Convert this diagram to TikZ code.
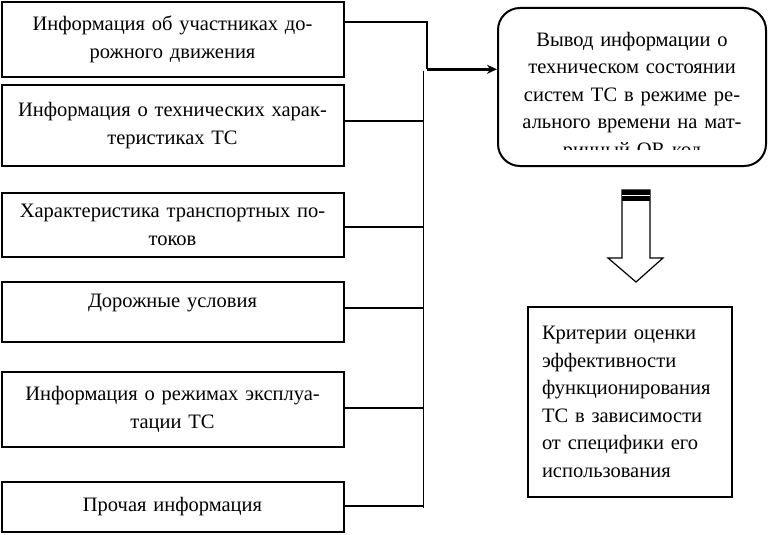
\documentclass[tikz,border=0pt]{standalone}
\usepackage{fontspec}
\setmainfont{Liberation Serif}
\usetikzlibrary{arrows.meta, positioning}

\begin{document}
\begin{tikzpicture}[
      x=1pt, y=-1pt, >={Stealth[length=10pt, width=9pt]},
      every node/.style={font=\fontsize{20.5}{27.5}\selectfont},
      info/.style={draw, line width=2pt, minimum width=342pt, text width=330pt, align=center, inner sep=0pt},
      link/.style={line width=1.5pt}
      ]
      \useasboundingbox (0,0) rectangle (768,535);

      \node[info, minimum height=75pt]  (i_1) at (172.5,39.5)  {Информация об участниках до-\\рожного движения};
      \node[info, minimum height=81pt]  (i_2) at (172.5,125.5) {Информация о технических харак-\\теристиках ТС};
      \node[info, minimum height=64pt]  (i_3) at (172.5,225)   {Характеристика транспортных по-\\токов};
      \node[info, minimum height=60pt, text depth=22pt] (i_4) at (172.5,312) {Дорожные условия};
      \node[info, minimum height=75pt]  (i_5) at (172.5,409.5) {Информация о режимах эксплуа-\\тации ТС};
      \node[info, minimum height=50pt]  (i_6) at (172.5,507)   {Прочая информация};

      \node[draw, line width=2pt, rounded corners=22pt, minimum width=268pt, minimum height=158pt,
            text width=256pt, align=center, inner sep=0pt, text height=33pt] (out) at (632,87)
            {Вывод информации о\\техническом состоянии\\систем ТС в режиме ре-\\ального времени на мат-\\ричный QR код};
      \fill[white] (556,150) rectangle (712,164);

      \node[draw, line width=2pt, minimum width=204pt, minimum height=190pt,
            text width=176pt, align=left, inner xsep=14pt] (crit) at (630,402)
            {Критерии оценки\\эффективности\\функционирования\\ТС в зависимости\\от специфики его\\использования};

      % collecting line
      \coordinate (j)  at (427,69.3);
      \coordinate (bt) at (423.3,70.7);
      \coordinate (bb) at (423.3,508);
      \draw[link] (bt) -- (bb);
      \draw[link] ([yshift=17.5pt]i_1.east) -| (j);
      \draw[line width=3pt, ->] (j) -- (out.west |- j);
      \foreach \n/\s in {2/4.5, 3/-2, 4/4, 5/1.5, 6/1}
        \draw[link] ([yshift=\s pt]i_\n.east) -| (bt);

      % hollow arrow
      \draw[line width=1.2pt, fill=white] (622,190) -- (650,190) -- (650,258) -- (663,258) -- (636,282)
            -- (608,258) -- (622,258) -- cycle;
      \fill (622,190) rectangle (650,201);
      \draw[white, line width=1pt] (622,195.5) -- (650,195.5);
    \end{tikzpicture}
\end{document}
